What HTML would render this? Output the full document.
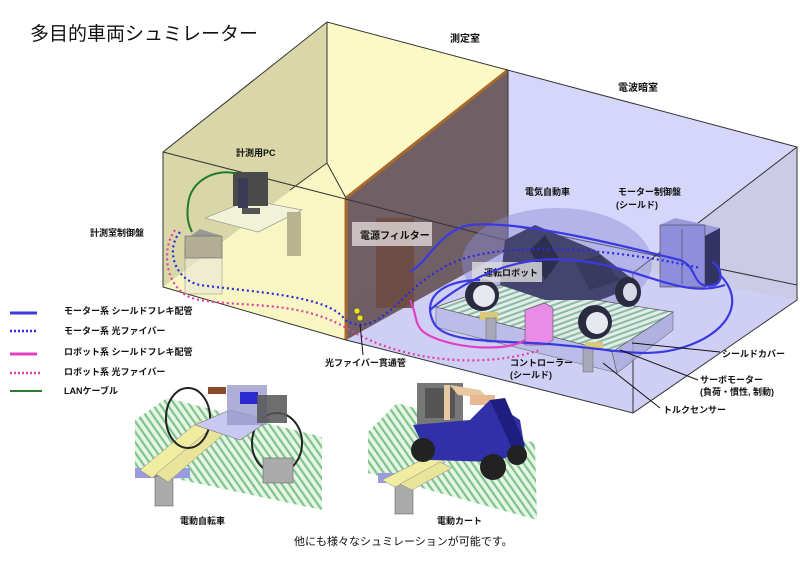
<!DOCTYPE html>
<html><head><meta charset="utf-8"><style>
html,body{margin:0;padding:0;background:#fff;}
svg{display:block;}
text{font-family:"Liberation Sans","Noto Sans CJK JP",sans-serif;font-weight:bold;fill:#111;}
</style></head><body>
<svg width="800" height="569" viewBox="0 0 800 569" xmlns="http://www.w3.org/2000/svg">
<defs>
<pattern id="h" width="6" height="6" patternUnits="userSpaceOnUse" patternTransform="rotate(-35)">
<rect width="6" height="6" fill="#e6f5e6"/><rect width="2.2" height="6" fill="#7fc48a"/>
</pattern>
<pattern id="h2" width="5" height="5" patternUnits="userSpaceOnUse" patternTransform="rotate(70)">
<rect width="5" height="5" fill="#e0eee8"/><rect width="2" height="5" fill="#8fb8a8"/>
</pattern>
</defs>
<text x="30" y="40" font-size="19" font-weight="normal" style="font-weight:normal">多目的車両シュミレーター</text>

<!-- right room -->
<polygon points="508,70 797,147 797,300 633,413 346,340 346,198" fill="#d6d6fa"/>
<polygon points="633,273 797,147 797,300 633,413" fill="#c8c8e4" opacity="0.8"/>
<polygon points="346,300 508,245 797,300 633,413 346,340" fill="#cfcff6"/>
<!-- left room -->
<polygon points="327,22 508,70 346,198 163,152" fill="#fbf9c6"/>
<polygon points="327,22 327,163 346,198 346,340 163,287 163,152" fill="#f6f3bf"/>
<polygon points="163,152 327,22 327,163 163,287" fill="#d9d7a7"/>
<polygon points="327,163 346,198 346,340 163,287" fill="#f8f6c2"/>
<!-- partition -->
<polygon points="346,198 508,70 508,250 346,340" fill="#5e4a4a" opacity="0.85"/>
<line x1="346" y1="198" x2="508" y2="70" stroke="#a86a2a" stroke-width="3"/>
<line x1="346" y1="198" x2="346" y2="340" stroke="#a86a2a" stroke-width="3"/>
<!-- outlines -->
<g stroke="#333" stroke-width="1" fill="none">
<polyline points="163,287 163,152 327,22 797,147 797,300 633,413 346,340 163,287"/>
<line x1="327" y1="22" x2="327" y2="163"/>
<line x1="327" y1="163" x2="346" y2="198"/>
<line x1="327" y1="163" x2="290" y2="190"/>
<line x1="163" y1="152" x2="633" y2="273"/>
<line x1="633" y1="273" x2="797" y2="147"/>
<line x1="633" y1="273" x2="633" y2="413"/>
<line x1="508" y1="70" x2="508" y2="250"/>
<line x1="508" y1="225" x2="797" y2="285"/>
</g>
<!-- power filter -->
<rect x="376" y="218" width="38" height="90" fill="#6e4b44" opacity="0.9"/>
<rect x="352" y="222" width="80" height="24" fill="#d8d0d0" opacity="0.85"/>
<text x="360" y="239" font-size="10">電源フィルター</text>

<!-- left room furniture -->
<polygon points="205,218 250,200 302,210 258,232" fill="#f2f2d8" stroke="#888" stroke-width=".6"/>
<rect x="287" y="212" width="14" height="44" fill="#b8b490"/>
<rect x="233" y="172" width="35" height="34" fill="#4a4a4a"/>
<rect x="238" y="178" width="10" height="30" fill="#3a3a55"/>
<rect x="242" y="208" width="18" height="6" fill="#555"/>
<polygon points="185,240 200,229 222,236 207,247" fill="#999"/>
<rect x="185" y="244" width="37" height="50" fill="#e8e8d8" opacity=".6" stroke="#777" stroke-width=".7"/>
<rect x="185" y="236" width="37" height="22" fill="#b3ad95" stroke="#666" stroke-width=".6"/>
<path d="M236,174 C220,168 190,178 188,205 C186,220 190,228 192,232" fill="none" stroke="#1e7a2c" stroke-width="2"/>
<text x="236" y="156" font-size="9">計測用PC</text>
<text x="90" y="236" font-size="9">計測室制御盤</text>

<!-- ellipse + platform -->
<ellipse cx="557" cy="263" rx="95" ry="55" fill="#8c8cd8" opacity="0.45"/>
<polygon points="436,307 500,285 673,312 612,352" fill="url(#h2)" stroke="#555" stroke-width=".7"/>
<polygon points="436,307 612,352 617,373 436,327" fill="#b8b8e6" opacity=".8" stroke="#555" stroke-width=".6"/>
<polygon points="612,352 673,312 673,330 617,373" fill="#aaaadc" opacity=".8" stroke="#555" stroke-width=".6"/>
<!-- car -->
<polygon points="505,240 535,225 595,250 640,285 600,300 545,300 500,285" fill="#44446e"/>
<polygon points="530,250 545,235 560,260 545,280" fill="#2e2e50"/>
<polygon points="575,262 600,255 620,280 590,290" fill="#3a3a60"/>
<ellipse cx="482" cy="295" rx="17" ry="16" fill="#2a2a40"/><ellipse cx="484" cy="296" rx="11" ry="11" fill="#e8e8f0"/>
<ellipse cx="628" cy="292" rx="13" ry="15" fill="#2a2a40"/><ellipse cx="630" cy="292" rx="7" ry="9" fill="#d8d8e8"/>
<ellipse cx="595" cy="322" rx="17" ry="17" fill="#2a2a40"/><ellipse cx="597" cy="323" rx="11" ry="11" fill="#e8e8f0"/>
<rect x="480" y="312" width="18" height="8" fill="#d8c87a"/>
<rect x="585" y="342" width="18" height="8" fill="#d8c87a"/>
<rect x="486" y="318" width="10" height="24" fill="#a8a8b8" stroke="#666" stroke-width=".5"/>
<rect x="583" y="348" width="10" height="24" fill="#a8a8b8" stroke="#666" stroke-width=".5"/>
<rect x="472" y="262" width="70" height="20" fill="#ddd" opacity=".8"/>
<text x="484" y="276" font-size="9">運転ロボット</text>
<!-- pink controller -->
<polygon points="525,310 545,303 553,308 553,340 545,345 525,345" fill="#e88ce8" stroke="#555" stroke-width=".6"/>
<!-- motor cabinet -->
<polygon points="660,225 675,218 720,228 705,236" fill="#9a9ad8"/>
<rect x="660" y="225" width="45" height="62" fill="#8e8edc" stroke="#444" stroke-width=".6"/>
<polygon points="705,236 720,228 720,282 705,287" fill="#333366"/>
<line x1="682" y1="229" x2="682" y2="284" stroke="#444" stroke-width=".6"/>

<!-- cables -->
<g fill="none" stroke-width="2.2">
<path d="M410,272 C430,260 440,230 470,225 C520,220 620,245 680,260 C700,268 690,290 715,285 C725,280 720,265 712,262" stroke="#3a3ae0"/>
<path d="M480,280 C440,280 420,300 435,325 C450,345 510,340 560,345 C620,350 650,360 690,345 C730,330 745,300 720,275" stroke="#3a3ae0"/>
<path d="M430,310 C470,275 520,255 570,260 C640,265 680,300 725,285" stroke="#3a3ae0"/>
<path d="M410,300 C420,320 410,330 440,340 C470,350 510,350 525,340" stroke="#e040c0"/>
</g>
<g fill="none" stroke-width="2.2" stroke-dasharray="2,3">
<path d="M180,232 C165,250 175,280 200,285 C250,292 330,295 345,320 C380,340 400,290 440,270 C480,240 600,245 700,268" stroke="#2a2ae0"/>
<path d="M175,230 C160,250 165,295 200,300 C250,308 300,300 350,330 C400,360 480,370 540,350" stroke="#e040a0"/>
</g>
<circle cx="357" cy="311" r="3" fill="#f0e020" stroke="#333" stroke-width=".5"/>
<circle cx="360" cy="318" r="3" fill="#f0e020" stroke="#333" stroke-width=".5"/>

<!-- labels -->
<text x="450" y="42" font-size="10">測定室</text>
<text x="618" y="91" font-size="10">電波暗室</text>
<text x="525" y="195" font-size="9">電気自動車</text>
<text x="618" y="195" font-size="9">モーター制御盤</text>
<text x="616" y="208" font-size="9">(シールド)</text>
<text x="325" y="366" font-size="9">光ファイバー貫通管</text>
<text x="510" y="366" font-size="9">コントローラー</text>
<text x="510" y="378" font-size="9">(シールド)</text>
<text x="722" y="357" font-size="9">シールドカバー</text>
<text x="700" y="383" font-size="9">サーボモーター</text>
<text x="700" y="395" font-size="9">(負荷・慣性, 制動)</text>
<text x="663" y="413" font-size="9">トルクセンサー</text>
<g stroke="#111" stroke-width="1" fill="none">
<line x1="360" y1="324" x2="363" y2="355"/>
<line x1="720" y1="352" x2="632" y2="343"/>
<line x1="698" y1="380" x2="620" y2="350"/>
<line x1="660" y1="408" x2="603" y2="363"/>
</g>

<!-- legend -->
<line x1="10" y1="313" x2="37" y2="313" stroke="#3a3ae0" stroke-width="3"/>
<line x1="10" y1="331" x2="37" y2="331" stroke="#2a2ae0" stroke-width="2.5" stroke-dasharray="2,2"/>
<line x1="10" y1="354" x2="37" y2="354" stroke="#e040c0" stroke-width="3"/>
<line x1="10" y1="373" x2="42" y2="373" stroke="#e040a0" stroke-width="2.5" stroke-dasharray="2,2"/>
<line x1="10" y1="391" x2="42" y2="391" stroke="#2a7a34" stroke-width="2"/>
<text x="64" y="314" font-size="9">モーター系 シールドフレキ配管</text>
<text x="64" y="334" font-size="9">モーター系 光ファイバー</text>
<text x="64" y="355" font-size="9">ロボット系 シールドフレキ配管</text>
<text x="64" y="375" font-size="9">ロボット系 光ファイバー</text>
<text x="64" y="394" font-size="9">LANケーブル</text>

<!-- bicycle scene -->
<polygon points="135,420 167,398 322,437 322,510 135,470" fill="url(#h)"/>
<rect x="135" y="468" width="55" height="10" fill="#9a9ae0"/>
<rect x="155" y="476" width="18" height="30" fill="#aaa" stroke="#666" stroke-width=".6"/>
<polygon points="140,470 200,420 212,428 152,478" fill="#f0eca0" stroke="#888" stroke-width=".5"/>
<polygon points="156,474 214,426 226,432 168,482" fill="#e8e49a" stroke="#888" stroke-width=".5"/>
<ellipse cx="188" cy="418" rx="22" ry="30" fill="none" stroke="#222" stroke-width="2"/>
<ellipse cx="277" cy="443" rx="25" ry="30" fill="none" stroke="#222" stroke-width="2"/>
<polygon points="195,425 230,410 270,420 240,440" fill="#c8c8f0" stroke="#777" stroke-width=".6"/>
<rect x="227" y="385" width="40" height="40" fill="#9a9acc" opacity=".8"/>
<rect x="240" y="392" width="18" height="12" fill="#2a2ad0"/>
<rect x="208" y="387" width="18" height="7" fill="#8a4a2a"/>
<rect x="257" y="395" width="30" height="28" fill="#555" opacity=".85"/>
<rect x="263" y="458" width="30" height="25" fill="#aaa" stroke="#666" stroke-width=".6"/>
<text x="180" y="524" font-size="9">電動自転車</text>

<!-- cart scene -->
<polygon points="368,432 397,403 535,443 537,520 368,473" fill="url(#h)"/>
<rect x="378" y="473" width="50" height="10" fill="#9a9ae0"/>
<rect x="395" y="480" width="18" height="34" fill="#aaa" stroke="#666" stroke-width=".6"/>
<polygon points="382,480 432,455 445,462 395,487" fill="#f0eca0" stroke="#888" stroke-width=".5"/>
<polygon points="400,484 440,462 452,468 412,490" fill="#e8e49a" stroke="#888" stroke-width=".5"/>
<rect x="417" y="383" width="46" height="44" fill="#777"/>
<rect x="425" y="388" width="30" height="30" fill="#555"/>
<rect x="444" y="385" width="6" height="35" fill="#e8c8a0"/>
<polygon points="450,385 480,390 488,398 458,395" fill="#e8c8a0"/>
<rect x="470" y="395" width="25" height="10" fill="#e8b890"/>
<polygon points="413,425 470,420 490,400 520,420 525,450 495,462 430,460" fill="#3030a8"/>
<polygon points="490,400 505,398 525,445 515,455" fill="#1e1e80"/>
<circle cx="423" cy="450" r="12" fill="#222"/>
<circle cx="493" cy="467" r="13" fill="#222"/>
<circle cx="517" cy="455" r="10" fill="#222"/>
<text x="437" y="524" font-size="9">電動カート</text>

<text x="294" y="545" font-size="11" style="font-weight:normal">他にも様々なシュミレーションが可能です。</text>
</svg>
</body></html>
